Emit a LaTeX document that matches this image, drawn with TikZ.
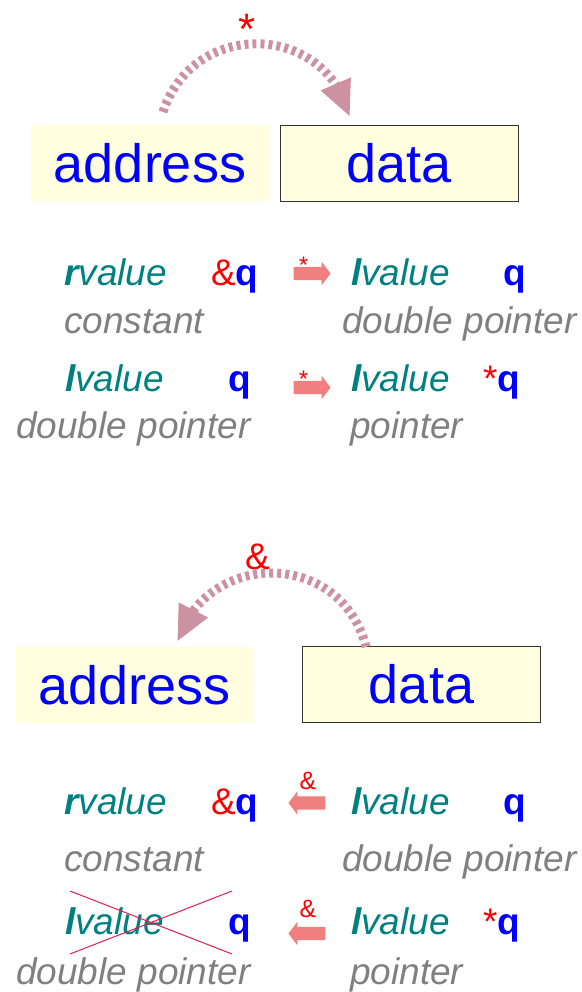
\documentclass[tikz,border=0pt]{standalone}
\usepackage{fontspec}
\setmainfont{Liberation Sans}
\usetikzlibrary{arrows.meta,bending,shapes.arrows}

\definecolor{cellfill}{HTML}{FFFFE0}
\definecolor{arccol}{HTML}{CC91A3}
\definecolor{opcol}{HTML}{F08080}
\definecolor{kindcol}{HTML}{008080}
\definecolor{hintcol}{HTML}{808080}
\definecolor{crosscol}{HTML}{E0204A}

\newcommand{\rval}{\textbf{r}value}
\newcommand{\lval}{\textbf{l}value}
\newcommand{\refq}{\textcolor{red}{\&}\textcolor{blue}{\textbf{q}}}
\newcommand{\ptrq}{\textcolor{red}{*}\textcolor{blue}{\textbf{q}}}
\newcommand{\bq}{\textcolor{blue}{\textbf{q}}}

\tikzset{
  cell/.style={minimum width=238pt, minimum height=76pt, inner sep=0pt,
    fill=cellfill, text=blue, font=\fontsize{54}{60}\selectfont},
  framed/.style={draw=black!80, line width=0.8pt},
  word/.style={anchor=base west, inner sep=0pt, font=\fontsize{37}{42}\selectfont},
  kind/.style={word, text=kindcol, font=\fontsize{37}{42}\selectfont\itshape},
  hint/.style={word, text=hintcol, font=\fontsize{37}{42}\selectfont\itshape},
  bigarc/.style={draw=arccol, line width=9pt, dash pattern=on 4pt off 4pt,
    -{Triangle[length=36pt,width=30pt]}, looseness=1.34},
  bigop/.style={anchor=base, inner sep=0pt, text=red},
  fatarrow/.style={single arrow, fill=opcol, inner xsep=0pt, inner ysep=6.5pt,
    minimum height=37pt, single arrow head extend=5pt, single arrow tip angle=106},
  opmark/.style={anchor=base, inner sep=0pt, text=red, font=\fontsize{24}{28}\selectfont}
}

\begin{document}
\begin{tikzpicture}[x=1pt,y=1pt]
  \useasboundingbox (0,0) rectangle (581,992);

  % dereference: from address to data
  \node[cell] (addrTop) at (150,829) {address};
  \node[cell,framed] (dataTop) at (399,829) {data};
  \coordinate (derefFrom) at (163,880);
  \coordinate (derefTo) at (350,875);
  \draw[bigarc] (derefFrom) to[out=72,in=104] (derefTo);
  \node[bigop, font=\fontsize{44}{48}\selectfont] (derefSym) at (247.5,947.5) {*};

  \node[kind] (rvTop) at (64,706) {\rval};
  \node[word] (amqTop) at (211,706) {\refq};
  \node[hint] (constTop) at (64,658) {constant};
  \node[kind] (lvTopB) at (65,600) {\lval};
  \node[word] (qTopB) at (228,600) {\bq};
  \node[hint] (dpTopB) at (16,553) {double pointer};

  \node[fatarrow] (derefOpA) at (309.5,718.5) {};
  \node[opmark] (starA) at (303.5,718) {*};
  \node[fatarrow] (derefOpB) at (309.5,604.5) {};
  \node[opmark] (starB) at (303.5,604) {*};

  \node[kind] (lvTopR) at (351,706) {\lval};
  \node[word] (qTopR) at (503,706) {\bq};
  \node[hint] (dpTopR) at (342,658) {double pointer};
  \node[kind] (lvTopRB) at (351,600) {\lval};
  \node[word] (pqTopRB) at (483,600) {\ptrq};
  \node[hint] (ptrTopRB) at (350,553) {pointer};

  % address-of: from data back to address
  \node[cell] (addrBot) at (134.5,307) {address};
  \node[cell,framed] (dataBot) at (421.5,307.5) {data};
  \coordinate (refFrom) at (366,345);
  \coordinate (refTo) at (177,350);
  \draw[bigarc] (refFrom) to[out=104,in=72] (refTo);
  \node[bigop, font=\fontsize{37}{42}\selectfont] (refSym) at (257.5,422) {\&};

  \node[kind] (rvBot) at (64,177) {\rval};
  \node[word] (amqBot) at (211,177) {\refq};
  \node[hint] (constBot) at (64,120) {constant};
  \node[kind] (lvBotB) at (65,57) {\lval};
  \node[word] (qBotB) at (228,57) {\bq};
  \node[hint] (dpBotB) at (16,8) {double pointer};
  \draw[crosscol, line width=1pt] (70,101) -- (232,38) (70,38) -- (232,101);

  \node[fatarrow, shape border rotate=180] (refOpA) at (309.5,189) {};
  \node[opmark, font=\fontsize{25}{28}\selectfont] (ampA) at (308,202) {\&};
  \node[fatarrow, shape border rotate=180] (refOpB) at (309.5,58.5) {};
  \node[opmark, font=\fontsize{25}{28}\selectfont] (ampB) at (308,74) {\&};

  \node[kind] (lvBotR) at (351,177) {\lval};
  \node[word] (qBotR) at (503,177) {\bq};
  \node[hint] (dpBotR) at (342,120) {double pointer};
  \node[kind] (lvBotRB) at (351,57) {\lval};
  \node[word] (pqBotRB) at (483,57) {\ptrq};
  \node[hint] (ptrBotRB) at (350,8) {pointer};
\end{tikzpicture}
\end{document}
